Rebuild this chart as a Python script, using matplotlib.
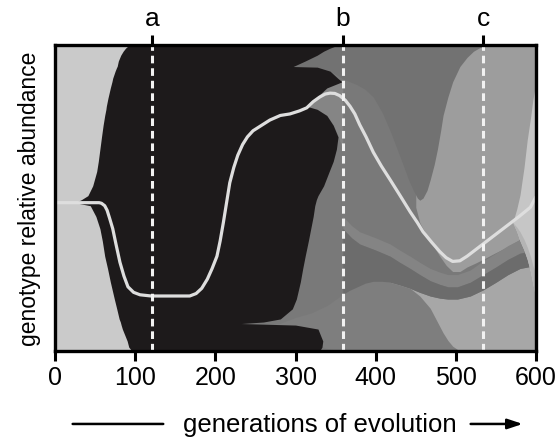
import numpy as np
import matplotlib.pyplot as plt

plt.rcParams['font.family'] = ['Liberation Sans', 'DejaVu Sans']

# marked time points
mark_gens = [121, 359, 534]
mark_labels = ['a', 'b', 'c']

# ancestral genotype (left, light gray)
anc_gens = [0, 100]

# black genotype body: left edge and right front for each abundance level (%)
bk_frac = [0, 1.3, 3.3, 7.2, 8.5, 9, 9.5, 10.5, 13.8, 17, 22.6, 27, 31, 36, 40, 44, 47.5, 48.5,
           49.5, 50.8, 54, 58.7, 62, 66, 70, 73.8, 77, 79, 80, 82.6, 86, 88, 89.2, 91.5, 92.8,
           93, 94.8, 96.7, 98, 99, 99.7, 100]
bk_left = [96, 92, 90, 84, 82.5, 82, 81.5, 80, 77, 74, 69, 65.5, 62, 59, 56, 51, 44, 25,
           33, 41, 47, 52, 54, 56, 58, 60, 62, 63.5, 64, 66, 69, 71, 72, 75, 77,
           77.5, 79, 82, 85, 88, 91, 93]
bk_right = [330, 333, 334, 328, 300, 232, 260, 281, 296, 301, 306, 309, 312, 316, 319, 322, 324, 325,
            326, 328, 335, 342, 347, 351, 353, 347, 339, 327, 314, 325, 339, 358, 352.5, 343, 327,
            297, 312, 327, 335, 343, 350, 356]

# wedge between black tongue and black sliver
wb_gens = [314, 327, 339, 347, 352, 359]
wb_lo = [80, 79, 77, 74, 71, 66]
wb_hi = [80, 83, 86, 87.5, 88.5, 88]

# upper genotype (top, above the U)
g1_gens = [297, 312, 327, 343, 353, 359, 368, 377, 387, 397, 408, 418, 426, 434, 441, 447, 452, 455,
           459, 464, 468, 473, 477, 481, 484, 490, 496, 505, 514, 522, 530, 545, 600]
g1_lo = [93, 93, 92.8, 91.5, 90, 89, 88, 87, 85.5, 83, 78, 72, 66.5, 61, 56, 52.5, 50, 49.3,
         50, 52.5, 56, 61, 66, 72, 77, 83, 88, 93, 96, 98, 99.2, 100, 100]

# light genotype on the right
g2_gens = [450, 455, 462, 468, 474, 480, 488, 496, 505, 514, 524, 534, 547, 560, 570, 580, 590, 600]
g2_lo = [47, 42, 38.5, 36, 33.5, 31, 28, 26, 26, 27.5, 28.7, 30, 31.8, 33.5, 35, 36.5, 37.3, 38]

# bands in the lower right
band_gens = [359, 370, 380, 390, 400, 418, 430, 443, 455, 468, 480, 490, 502, 518, 534, 550, 565, 580, 600]
b1 = [18, 19.8, 21, 22, 22.5, 22.5, 21.6, 20.5, 19.2, 18, 17.3, 17, 17, 18, 20, 22.5, 25, 27, 28]
b2 = [40, 37, 35, 34, 33, 31, 29, 27, 25, 23, 21.8, 21, 21, 22.5, 25, 27.5, 30, 32, 33]
b3 = [44, 41, 39, 38, 37, 35, 33, 31, 29, 27, 25.8, 25, 25, 26.5, 29.5, 32, 34.5, 36.5, 37.5]

# bottom hump genotype
g4_gens = [250, 280, 300, 320, 340, 356, 367, 377, 387, 397, 408, 418, 430, 443, 455, 468, 476,
           484, 490, 496, 505]
g4_lo = [7.5, 6, 4.5, 2.5, 0.8, 0, 0, 0, 0, 0, 0, 0, 0, 0, 0, 0, 0, 0, 0, 0, 0]
g4_hi = [8, 9, 11, 12.5, 15, 18, 19.8, 21, 22.2, 22.8, 22.8, 22.5, 21.6, 20.5, 18, 14, 10,
         6, 3.5, 1.6, 0]

# newest genotype at the right edge
g6_gens = [571, 576, 580, 585, 589, 593, 596, 600]
g6_lo = [42, 39, 36, 33, 30, 26, 22, 17]
g6_hi = [42, 46.5, 51, 60, 69, 76, 82, 88]
g6_mid = [42, 40.5, 39, 36.5, 34, 31, 28, 25]

# white line (mean)
wl_gens = [0, 55, 58, 62, 65, 68, 72, 76, 81, 86, 91, 98, 106, 120, 168, 176, 183, 190, 196, 202,
           206, 210, 214, 218, 223, 228, 234, 240, 247, 256, 268, 281, 293, 305, 314, 322, 330, 337,
           343, 349, 355, 362, 368, 374, 380, 388, 397, 407, 418, 430, 443, 452, 459, 470, 480, 488,
           496, 505, 514, 524, 534, 549, 564, 579, 593, 600]
wl_vals = [48.5, 48.5, 48.3, 47.5, 46, 43.5, 40, 35, 29, 24.5, 21, 19.2, 18.4, 18, 18, 18.8, 20.5,
           23.5, 27, 31, 36, 42, 48.5, 55, 60, 64, 67.5, 70, 72, 73.5, 75.5, 77, 77.5, 78.5, 79.5,
           81.5, 83, 84, 84.3, 84.2, 83.5, 82, 80, 77.5, 74, 70, 65, 60.5, 56, 51, 45.5, 42, 39,
           35.5, 32.5, 30.5, 29.3, 29.5, 31, 33, 35, 38, 41, 44, 47, 50.5]

fig = plt.figure(figsize=(5.59, 4.39), dpi=100)
ax = fig.add_axes([0.0984, 0.198, 0.8605, 0.697])
ax.set_facecolor('#797979')

ax.fill_between(anc_gens, 0, 100, color='#cacaca', lw=0)
ax.fill_between(g2_gens, g2_lo, 100, color='#9d9d9d', lw=0)
ax.fill_between(g1_gens, g1_lo, 100, color='#727272', lw=0)
ax.fill_between(band_gens, 0, b1, color='#a7a7a7', lw=0)
ax.fill_between(band_gens, b2, b3, color='#848484', lw=0)
ax.fill_between(band_gens, b1, b2, color='#6c6c6c', lw=0)
ax.fill_between(g4_gens, g4_lo, g4_hi, color='#7e7e7e', lw=0)
ax.fill_between(g6_gens, g6_lo, g6_hi, color='#c6c6c6', lw=0)
ax.fill_between(g6_gens, g6_lo, g6_mid, color='#b4b4b4', lw=0)
ax.fill_between(wb_gens, wb_lo, wb_hi, color='#858585', lw=0)
ax.fill_betweenx(bk_frac, bk_left, bk_right, color='#1d1a1b', lw=0)

ax.plot(wl_gens, wl_vals, color='#dedede', lw=2.3, solid_capstyle='butt')
for g in mark_gens:
    ax.axvline(g, color='#f2f2f2', lw=2.2, dashes=(2.5, 1.6))

ax.set_xlim(0, 600)
ax.set_ylim(0, 100)
ax.set_yticks([])
ax.set_xticks([0, 100, 200, 300, 400, 500, 600])
ax.tick_params(axis='x', direction='out', length=7, width=2.2, labelsize=18, pad=3)
for s in ax.spines.values():
    s.set_linewidth(2.4)

top = ax.secondary_xaxis('top')
top.set_xticks(mark_gens)
top.set_xticklabels(mark_labels)
top.tick_params(direction='out', length=7, width=2.2, labelsize=19, pad=4)
top.spines['top'].set_visible(False)

ax.set_ylabel('genotype relative abundance', fontsize=16.5, labelpad=10)
fig.text(0.572, 0.032, 'generations of evolution', fontsize=18.5, ha='center', va='center')
ax.annotate('', xy=(0.297, 0.032), xytext=(0.125, 0.032), xycoords='figure fraction',
            arrowprops=dict(arrowstyle='-', lw=1.8, color='black'))
ax.annotate('', xy=(0.94, 0.032), xytext=(0.837, 0.032), xycoords='figure fraction',
            arrowprops=dict(arrowstyle='-|>,head_length=0.9,head_width=0.3', lw=1.8, color='black'))

fig.savefig('out.png', dpi=100)
